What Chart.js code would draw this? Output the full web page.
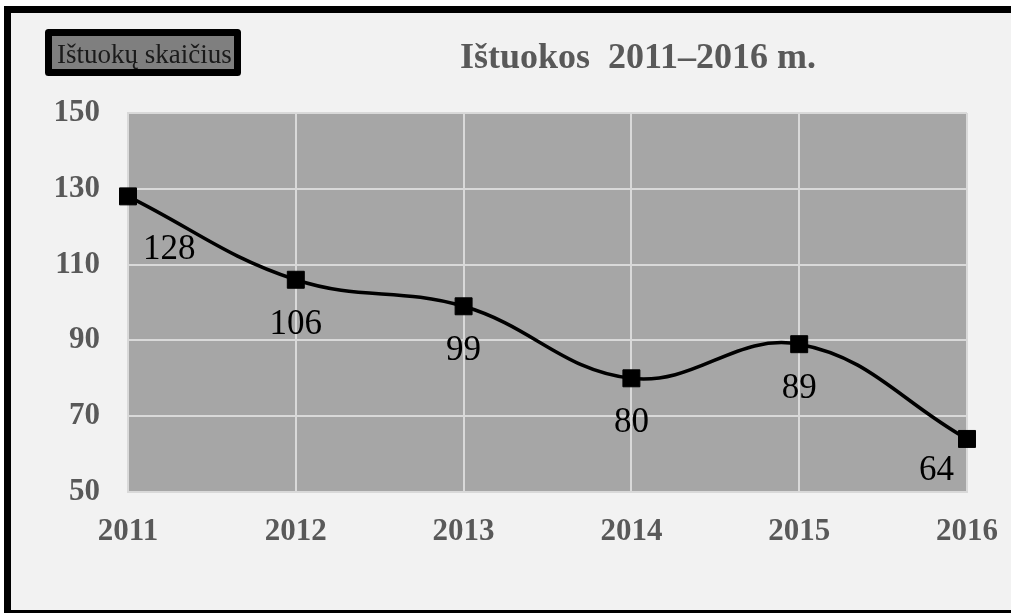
<!DOCTYPE html>
<html>
<head>
<meta charset="utf-8">
<script src="https://cdn.jsdelivr.net/npm/chart.js@4/dist/chart.umd.min.js"></script>
<style>
  html, body { margin: 0; padding: 0; background: #fff; overflow: hidden; }
  #box {
    position: absolute; left: 4px; top: 6px;
    width: 1020px; height: 597px;
    border: 7px solid #000; background: #f2f2f2;
  }
  #wrap { position: absolute; left: 0; top: 0; width: 1011px; height: 613px; }
</style>
</head>
<body>
<div id="box"></div>
<div id="wrap"><canvas id="chart"></canvas></div>
<script>
// duomenys
const metai = ['2011', '2012', '2013', '2014', '2015', '2016'];
const istuokos = [128, 106, 99, 80, 89, 64];
const serijosPavadinimas = 'Ištuokų skaičius';
const pavadinimas = 'Ištuokos  2011–2016 m.';

const serif = '"Liberation Serif", "Times New Roman", serif';

// pilkas braižymo plotas
const fonas = {
  id: 'fonas',
  beforeDraw(chart) {
    const a = chart.chartArea, ctx = chart.ctx;
    ctx.save();
    ctx.fillStyle = '#a6a6a6';
    ctx.fillRect(a.left, a.top, a.right - a.left, a.bottom - a.top);
    ctx.restore();
  }
};

// pavadinimas ir legenda
const antrastes = {
  id: 'antrastes',
  afterDraw(chart) {
    const ctx = chart.ctx;
    ctx.save();
    ctx.font = 'bold 36px ' + serif;
    ctx.fillStyle = '#595959';
    ctx.textAlign = 'center';
    ctx.textBaseline = 'alphabetic';
    ctx.fillText(pavadinimas, 638, 68);

    ctx.fillStyle = '#7f7f7f';
    ctx.fillRect(48.5, 32.5, 189, 40);
    ctx.lineWidth = 7;
    ctx.strokeStyle = '#000';
    ctx.lineJoin = 'round';
    ctx.strokeRect(48.5, 32.5, 189, 40);
    ctx.font = '27px ' + serif;
    ctx.fillStyle = '#1a1a1a';
    ctx.textAlign = 'left';
    ctx.fillText(chart.data.datasets[0].label, 57, 63);
    ctx.restore();
  }
};

// reikšmių užrašai po taškais
const uzrasai = {
  id: 'uzrasai',
  afterDatasetsDraw(chart) {
    const ctx = chart.ctx, a = chart.chartArea;
    const meta = chart.getDatasetMeta(0);
    ctx.save();
    ctx.font = '35px ' + serif;
    ctx.fillStyle = '#000';
    ctx.textAlign = 'center';
    ctx.textBaseline = 'middle';
    meta.data.forEach((p, i) => {
      const txt = String(chart.data.datasets[0].data[i]);
      const w = ctx.measureText(txt).width;
      let x = p.x, y = p.y + 45;
      if (x - w / 2 < a.left + 15) { x = a.left + 15 + w / 2; y += 8; }
      x = Math.min(a.right - 13 - w / 2, x);
      y = Math.min(a.bottom - 21, y);
      ctx.fillText(txt, x, y);
    });
    ctx.restore();
  }
};

new Chart(document.getElementById('chart'), {
  type: 'line',
  data: {
    labels: metai,
    datasets: [{
      label: serijosPavadinimas,
      data: istuokos,
      borderColor: '#000',
      borderWidth: 3.5,
      tension: 0.4,
      pointStyle: 'rect',
      pointRadius: 12,
      pointBackgroundColor: '#000',
      pointBorderColor: '#000',
      pointBorderWidth: 1
    }]
  },
  options: {
    responsive: true,
    maintainAspectRatio: false,
    animation: false,
    layout: { padding: { left: 0, top: 113, right: 44, bottom: 0 } },
    plugins: {
      legend: { display: false },
      title: { display: false },
      tooltip: { enabled: false }
    },
    scales: {
      x: {
        offset: false,
        grid: { color: '#d9d9d9', lineWidth: 2, drawTicks: false },
        border: { color: '#d9d9d9', width: 2 },
        ticks: { color: '#595959', padding: 21, font: { family: serif, size: 31, weight: 'bold' } },
        afterFit(scale) {
          scale.height = 121;
          scale.paddingLeft = 0;
          scale.paddingRight = 0;
        }
      },
      y: {
        min: 50,
        max: 150,
        grid: { color: '#d9d9d9', lineWidth: 2, drawTicks: false },
        border: { color: '#d9d9d9', width: 2 },
        ticks: { stepSize: 20, color: '#595959', padding: 28, font: { family: serif, size: 31, weight: 'bold' } },
        afterFit(scale) {
          scale.width = 128;
          scale.paddingTop = 0;
          scale.paddingBottom = 0;
        }
      }
    }
  },
  plugins: [fonas, antrastes, uzrasai]
});
</script>
</body>
</html>
